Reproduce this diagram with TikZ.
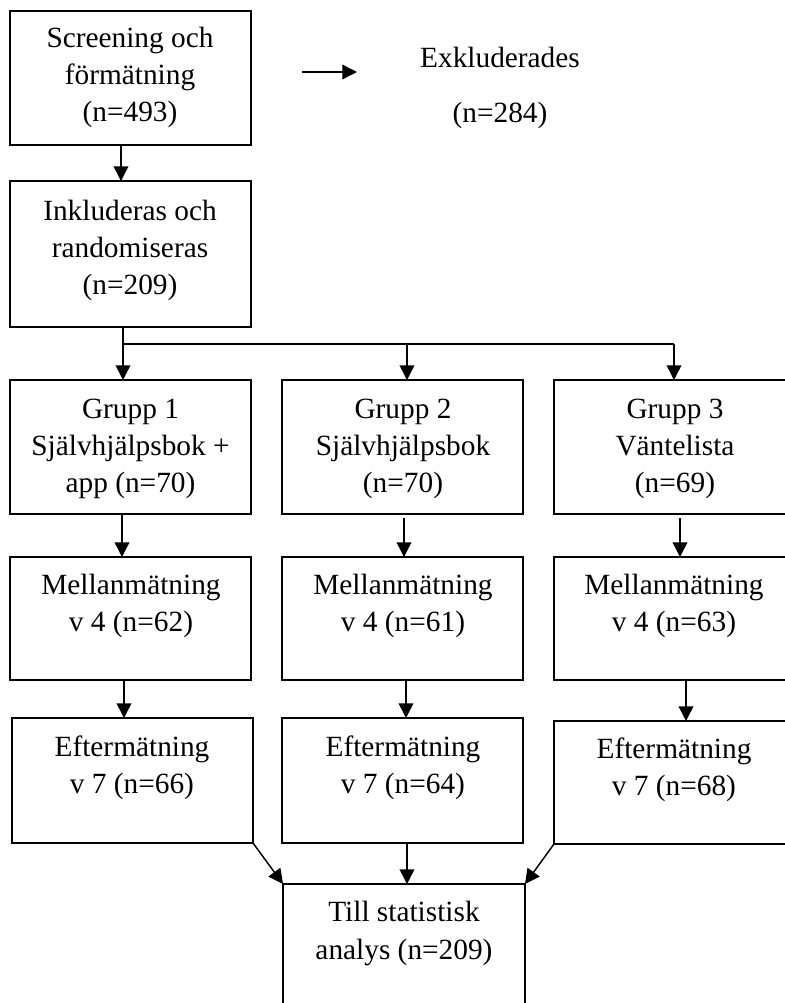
\documentclass[tikz,border=0pt]{standalone}
\usepackage{fontspec}
\setmainfont{Liberation Serif}
\usetikzlibrary{arrows.meta,calc}
\tikzset{
  box/.style={draw, line width=1.1pt, inner sep=0pt, outer sep=0pt},
  txt/.style={align=center, inner sep=0pt, font=\fontsize{22}{27.8}\selectfont},
  arr/.style={line width=1.1pt, -{Triangle[length=11pt,width=11pt]}},
  ln/.style={line width=1.1pt},
}
\newcommand\mybox[5]{%
  \node[box, minimum width={(#4-#2)*0.75pt}, minimum height={(#5-#3)*0.75pt}]
    (#1) at ({(#2+#4)/2},{(#3+#5)/2}) {};}
\begin{document}
\begin{tikzpicture}[x=0.75pt,y=-0.75pt]
\useasboundingbox (0,0) rectangle (785,1003);
\clip (0,0) rectangle (785,1003);
\fill[white] (0,0) rectangle (785,1003);
% boxes
\mybox{b1}{10}{11}{251}{145}
\mybox{b2}{10}{181}{251}{327}
\mybox{g1}{10}{380}{251}{514}
\mybox{g2}{282}{380}{523}{514}
\mybox{g3}{554}{380}{796}{514}
\mybox{m1}{10}{557}{251}{680}
\mybox{m2}{282}{557}{523}{680}
\mybox{m3}{554}{557}{796}{680}
\mybox{e1}{12}{718}{253}{843}
\mybox{e2}{282}{718}{523}{843}
\mybox{e3}{554}{721}{796}{844}
\mybox{f}{283}{884}{525}{1030}
% texts
\node[txt] (t1) at (130,77.5) {Screening och\\förmätning\\(n=493)};
\node[txt] (t2) at (130,250.5) {Inkluderas och\\randomiseras\\(n=209)};
\node[txt] (tg1) at (130.5,448.5) {Grupp 1\\Självhjälpsbok +\\app (n=70)};
\node[txt] (tg2) at (403,448.5) {Grupp 2\\Självhjälpsbok\\(n=70)};
\node[txt] (tg3) at (675,448.5) {Grupp 3\\Väntelista\\(n=69)};
\node[txt] (tm1) at (131,605.5) {Mellanmätning\\v 4 (n=62)};
\node[txt] (tm2) at (403,605.5) {Mellanmätning\\v 4 (n=61)};
\node[txt] (tm3) at (674,605.5) {Mellanmätning\\v 4 (n=63)};
\node[txt] (te1) at (132,768) {Eftermätning\\v 7 (n=66)};
\node[txt] (te2) at (403,768) {Eftermätning\\v 7 (n=64)};
\node[txt] (te3) at (674,770) {Eftermätning\\v 7 (n=68)};
\node[txt] (tf) at (404,933.5) {Till statistisk\\analys (n=209)};
\node[txt] (tx1) at (500,57) {Exkluderades};
\node[txt] (tx2) at (500,115) {(n=284)};
% connectors
\draw[arr] ($(b1.south)+(-9.5,0)$) -- ($(b2.north)+(-9.5,0)$);
\coordinate (xa) at (302,72);
\coordinate (xb) at (357,72);
\draw[arr] (xa) -- (xb);
\coordinate (s1) at (123,344);
\coordinate (s2) at (407,344);
\coordinate (s3) at (674,344);
\draw[ln] (b2.south -| s1) -- (s1) -- (s3);
\draw[arr] (s1) -- (g1.north -| s1);
\draw[arr] (s2) -- (g2.north -| s2);
\draw[arr] (s3) -- (g3.north -| s3);
\draw[arr] ($(g1.south)+(-8.5,0)$) -- ($(m1.north)+(-8.5,0)$);
\draw[arr] ($(g2.south)+(1.5,4)$) -- ($(m2.north)+(1.5,0)$);
\draw[arr] ($(g3.south)+(5,4)$) -- ($(m3.north)+(5,0)$);
\draw[arr] ($(m1.south)+(-6.5,0)$) -- ($(e1.north)+(-8.5,0)$);
\draw[arr] ($(m2.south)+(3.5,0)$) -- ($(e2.north)+(3.5,0)$);
\draw[arr] ($(m3.south)+(11,0)$) -- ($(e3.north)+(11,0)$);
\draw[arr] (e1.south east) -- (f.north west);
\draw[arr] ($(e2.south)+(4.5,0)$) -- ($(f.north)+(3,0)$);
\draw[arr] (e3.south west) -- (f.north east);
\end{tikzpicture}
\end{document}
